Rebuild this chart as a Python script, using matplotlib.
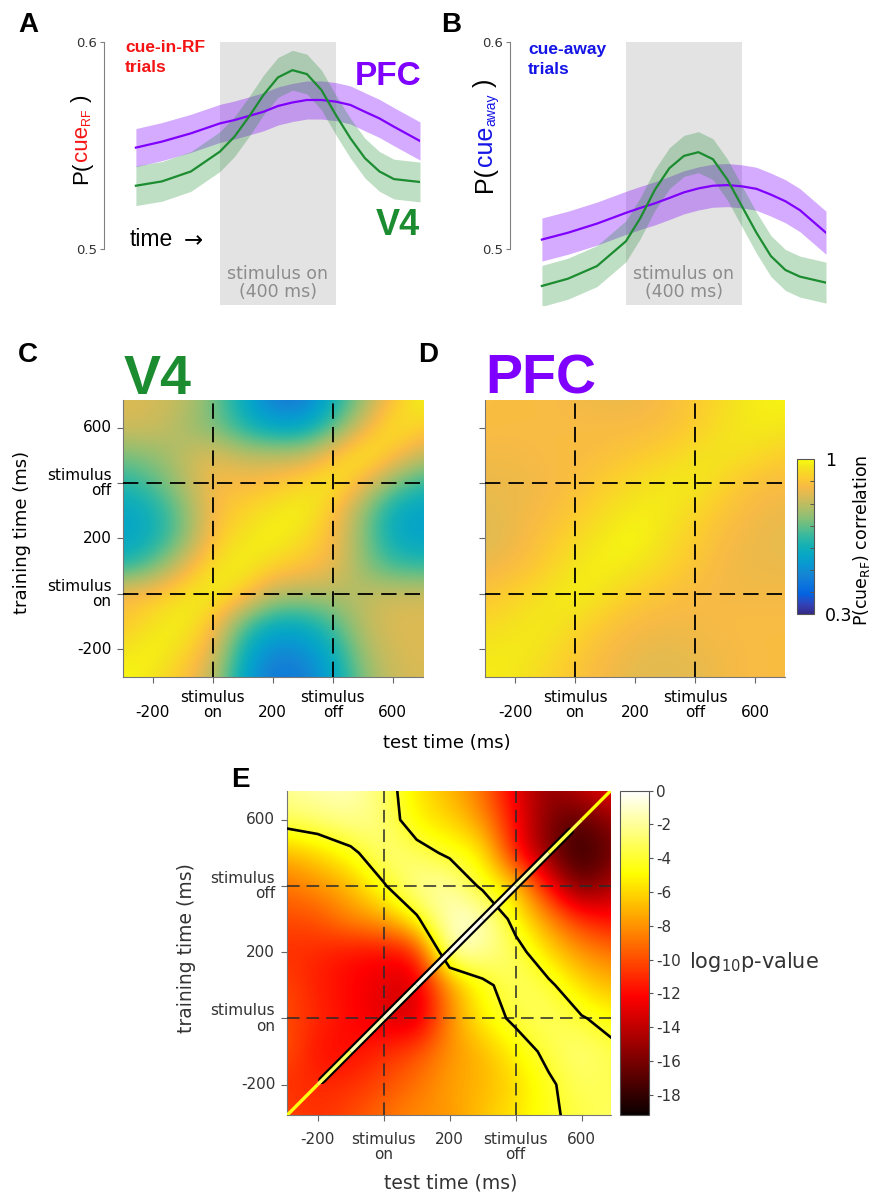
import numpy as np
import matplotlib
matplotlib.use("Agg")
import matplotlib.pyplot as plt
from matplotlib.collections import LineCollection
from matplotlib.colors import LinearSegmentedColormap, Normalize

plt.rcParams["font.family"] = ["DejaVu Sans"]

W, H = 874, 1193
STIM_ON, STIM_OFF = 0, 400

# ---- A / B: decoded probability time courses (ms, probability) ----
curve_t = [-290, -200, -100, 0, 50, 100, 150, 200, 250, 300, 350, 400, 450, 500, 550, 600, 690]
a_v4 = [0.5306, 0.5327, 0.5375, 0.5471, 0.5543, 0.5639, 0.5744, 0.5829, 0.5864,
        0.5845, 0.5768, 0.5647, 0.5535, 0.5439, 0.5375, 0.5338, 0.5324]
a_pfc = [0.5490, 0.5519, 0.5559, 0.5607, 0.5623, 0.5643, 0.5663, 0.5691, 0.5708,
         0.5720, 0.5720, 0.5712, 0.5696, 0.5663, 0.5631, 0.5591, 0.5522]
b_v4 = [0.4822, 0.4857, 0.4918, 0.5038, 0.5151, 0.5287, 0.5391, 0.5450, 0.5468,
        0.5434, 0.5335, 0.5207, 0.5079, 0.4966, 0.4899, 0.4867, 0.4838]
b_pfc = [0.5046, 0.5079, 0.5123, 0.5175, 0.5199, 0.5221, 0.5247, 0.5274, 0.5293,
         0.5306, 0.5309, 0.5303, 0.5291, 0.5263, 0.5231, 0.5188, 0.5079]
a_v4_sem, a_pfc_sem = 0.0096, 0.0092
b_v4_sem, b_pfc_sem = 0.0099, 0.0104

# ---- C / D / E: cross-temporal maps, rows = training time 700 -> -300, cols = test time -300 -> 700 ----
grid_t = [-300, -200, -100, 0, 100, 200, 300, 400, 500, 600, 700]

v4_corr = [
    [0.84, 0.83, 0.80, 0.72, 0.58, 0.45, 0.44, 0.60, 0.75, 0.90, 1.00],
    [0.82, 0.82, 0.77, 0.72, 0.63, 0.56, 0.57, 0.68, 0.85, 0.98, 0.92],
    [0.72, 0.74, 0.80, 0.85, 0.80, 0.80, 0.80, 0.90, 1.00, 0.90, 0.80],
    [0.63, 0.68, 0.78, 0.88, 0.88, 0.90, 0.94, 0.99, 0.86, 0.72, 0.64],
    [0.56, 0.60, 0.72, 0.88, 0.93, 0.97, 1.00, 0.90, 0.74, 0.58, 0.55],
    [0.55, 0.60, 0.72, 0.90, 0.97, 1.00, 0.95, 0.88, 0.73, 0.58, 0.55],
    [0.63, 0.70, 0.84, 0.96, 1.00, 0.93, 0.90, 0.86, 0.74, 0.66, 0.65],
    [0.88, 0.90, 0.96, 1.00, 0.92, 0.79, 0.78, 0.78, 0.80, 0.82, 0.82],
    [0.90, 0.96, 1.00, 0.90, 0.70, 0.60, 0.60, 0.68, 0.80, 0.84, 0.84],
    [0.96, 1.00, 0.95, 0.85, 0.60, 0.48, 0.50, 0.60, 0.77, 0.83, 0.84],
    [1.00, 0.97, 0.90, 0.80, 0.56, 0.43, 0.45, 0.56, 0.73, 0.82, 0.83],
]

pfc_corr = [
    [0.89, 0.88, 0.88, 0.87, 0.86, 0.86, 0.88, 0.91, 0.95, 0.98, 0.99],
    [0.88, 0.88, 0.88, 0.88, 0.88, 0.88, 0.89, 0.92, 0.96, 0.98, 0.97],
    [0.87, 0.87, 0.88, 0.88, 0.89, 0.91, 0.93, 0.96, 0.97, 0.95, 0.92],
    [0.86, 0.86, 0.87, 0.89, 0.92, 0.95, 0.97, 0.98, 0.93, 0.89, 0.88],
    [0.85, 0.86, 0.88, 0.91, 0.95, 0.98, 0.98, 0.94, 0.90, 0.87, 0.86],
    [0.84, 0.86, 0.90, 0.94, 0.98, 1.00, 0.96, 0.92, 0.88, 0.86, 0.85],
    [0.86, 0.88, 0.92, 0.97, 0.99, 0.97, 0.94, 0.90, 0.87, 0.86, 0.86],
    [0.90, 0.93, 0.96, 0.99, 0.96, 0.92, 0.90, 0.88, 0.87, 0.87, 0.87],
    [0.94, 0.96, 0.98, 0.95, 0.91, 0.88, 0.87, 0.87, 0.88, 0.88, 0.88],
    [0.97, 0.98, 0.96, 0.92, 0.88, 0.86, 0.85, 0.86, 0.87, 0.88, 0.88],
    [0.98, 0.97, 0.94, 0.90, 0.87, 0.85, 0.84, 0.85, 0.87, 0.88, 0.88],
]

# log10 p-value of V4 vs PFC difference (off-diagonal background)
e_logp = [
    [-2.0, -1.5, -1.2, -3.0, -5.5, -7.0, -9.0, -13.0, -15.5, -13.5, -12.0],
    [-3.0, -2.5, -2.0, -2.5, -5.5, -6.0, -8.0, -12.0, -16.0, -17.0, -15.0],
    [-7.0, -6.0, -4.5, -2.5, -3.0, -4.5, -5.0, -12.0, -16.0, -18.5, -16.0],
    [-9.0, -8.0, -7.0, -4.2, -2.0, -1.5, -4.5, -6.0, -12.0, -17.0, -14.0],
    [-10.0, -10.0, -8.0, -7.5, -4.3, -1.0, -0.8, -5.0, -8.0, -11.0, -12.0],
    [-11.0, -11.0, -12.0, -12.0, -12.0, -0.5, -2.0, -3.0, -6.0, -8.0, -9.0],
    [-10.0, -11.5, -12.0, -13.0, -13.5, -8.0, -4.5, -3.0, -3.5, -6.0, -7.0],
    [-10.0, -11.0, -12.0, -13.0, -14.0, -8.0, -5.0, -3.6, -3.0, -3.8, -5.0],
    [-9.5, -12.0, -12.0, -11.0, -10.0, -8.0, -7.0, -5.0, -3.5, -2.5, -3.5],
    [-11.0, -11.0, -11.0, -10.0, -9.0, -7.5, -7.0, -6.0, -4.3, -3.0, -3.5],
    [-10.0, -11.0, -10.0, -9.0, -8.0, -8.0, -6.5, -5.5, -4.3, -3.5, -3.0],
]
# thin ridge along the diagonal (training time == test time)
e_diag = [-5.0, -4.3, -2.0, -1.0, -0.6, -0.2, -0.3, -1.2, -2.5, -4.8, -5.0]
E_LEVEL = -4.0

map_ticks = [-200, 0, 200, 400, 600]

V4_COL = "#1c8c30"
PFC_COL = "#7f00ff"
RED = "#f51414"
BLUE = "#1414e6"

# parula-like colormap
PARULA = [(0.2081, 0.1663, 0.5292), (0.1959, 0.2645, 0.7279), (0.0117, 0.3875, 0.8820),
          (0.0498, 0.4586, 0.8641), (0.0793, 0.5200, 0.8312), (0.0343, 0.5966, 0.8199),
          (0.0228, 0.6535, 0.7768), (0.0843, 0.6928, 0.7062), (0.2178, 0.7250, 0.6193),
          (0.3953, 0.7459, 0.5244), (0.5709, 0.7485, 0.4494), (0.7184, 0.7411, 0.3905),
          (0.8507, 0.7299, 0.3360), (0.9739, 0.7314, 0.2666), (0.9880, 0.8066, 0.1794),
          (0.9589, 0.8949, 0.1132), (0.9763, 0.9831, 0.0538)]
PARULA_POS = [i / 63 for i in (0, 4, 8, 12, 16, 20, 24, 28, 32, 36, 40, 44, 48, 52, 56, 60, 63)]
parula = LinearSegmentedColormap.from_list("parula", list(zip(PARULA_POS, PARULA)))


def rect(x0, y0, x1, y1):
    return [x0 / W, 1 - y1 / H, (x1 - x0) / W, (y1 - y0) / H]


def ftext(x, y, s, **kw):
    return fig.text(x / W, 1 - y / H, s, **kw)


def draw_timecourse(ax, v4, v4_sem, pfc, pfc_sem):
    t = np.array(curve_t)
    ax.axvspan(STIM_ON, STIM_OFF, color="#e3e3e3", lw=0, zorder=0)
    for mean, sem, col, alpha in ((pfc, pfc_sem, PFC_COL, 0.33), (v4, v4_sem, V4_COL, 0.28)):
        mean = np.array(mean)
        ax.fill_between(t, mean - sem, mean + sem, color=col, alpha=alpha, lw=0, zorder=1)
    for mean, col in ((pfc, PFC_COL), (v4, V4_COL)):
        ax.plot(t, mean, color=col, lw=1.6, zorder=2)
    ax.set_xlim(-400, 690)
    ax.set_ylim(0.473, 0.6)
    for side in ("top", "right", "bottom"):
        ax.spines[side].set_visible(False)
    ax.spines["left"].set_bounds(0.5, 0.6)
    ax.spines["left"].set_color("#808080")
    ax.set_xticks([])
    ax.set_yticks([0.5, 0.6], ["0.5", "0.6"])
    ax.tick_params(axis="y", length=3, color="#808080", labelsize=9.5,
                   labelcolor="#333333", pad=2)
    ax.patch.set_alpha(0)
    ax.text(200, 0.4835, "stimulus on\n(400 ms)", ha="center", va="center",
            color="#8c8c8c", fontsize=12.5, linespacing=1.0)


def stacked_ylabel(ax, x, y, pieces):
    # rotated label built from pieces: (text, colour, size, shift in points)
    first = pieces[0]
    prev = ftext(x, y, first[0], color=first[1], fontsize=first[2], rotation=90,
                 ha="left", va="bottom", family="Liberation Sans")
    for s, col, fs, dx in pieces[1:]:
        prev = ax.annotate(s, xy=(0, 1), xycoords=prev, xytext=(dx, 0),
                           textcoords="offset points", rotation=90, ha="left",
                           va="bottom", color=col, fontsize=fs,
                           family="Liberation Sans", annotation_clip=False)


def draw_map(ax, grid, cmap, vmin, vmax, lim, dash):
    im = ax.imshow(grid, cmap=cmap, vmin=vmin, vmax=vmax, origin="upper",
                   extent=(-350, 750, -350, 750), interpolation="bicubic",
                   aspect="auto", zorder=0)
    ax.set_xlim(*lim)
    ax.set_ylim(*lim)
    for v in (STIM_ON, STIM_OFF):
        ax.axvline(v, **dash)
        ax.axhline(v, **dash)
    for side in ("top", "right"):
        ax.spines[side].set_visible(False)
    for side in ("left", "bottom"):
        ax.spines[side].set_color("#777777")
        ax.spines[side].set_linewidth(0.8)
    ax.set_xticks(map_ticks)
    ax.set_yticks(map_ticks)
    ax.tick_params(direction="out", length=4, width=0.8, color="#666666")
    return im


def style_ticklabels(ax, xlabels, ylabels, size, color, spacing, xpad, ypad):
    ax.set_xticklabels(xlabels, fontsize=size, color=color, linespacing=spacing)
    ax.set_yticklabels(ylabels, fontsize=size, color=color, linespacing=spacing,
                       va="center")
    ax.tick_params(axis="x", pad=xpad)
    ax.tick_params(axis="y", pad=ypad)


fig = plt.figure(figsize=(W / 100, H / 100), dpi=100)

# ---------------- A ----------------
axA = fig.add_axes(rect(104, 42, 420, 305))
draw_timecourse(axA, a_v4, a_v4_sem, a_pfc, a_pfc_sem)
ftext(125, 40, "cue-in-RF\ntrials", color=RED, fontsize=12.5, fontweight="bold",
      family="Liberation Sans", va="top", ha="left", linespacing=1.45)
ftext(421, 85, "PFC", color=PFC_COL, fontsize=24, fontweight="bold",
      family="Liberation Sans", ha="right", va="baseline")
ftext(420, 235, "V4", color=V4_COL, fontsize=26, fontweight="bold",
      family="Liberation Sans", ha="right", va="baseline")
ftext(130, 246.5, "time", color="black", fontsize=16.5,
      family="Liberation Sans", ha="left", va="baseline")
ftext(184, 247.5, "\u2192", color="black", fontsize=16.5,
      family="DejaVu Sans", ha="left", va="baseline")
stacked_ylabel(axA, 71, 183.5, [("P(", "black", 16, 0), ("cue", RED, 16, 0),
                                 ("RF", RED, 9, 7.4), (" )", "black", 16, -7.4)])

# ---------------- B ----------------
axB = fig.add_axes(rect(510, 42, 826, 305))
draw_timecourse(axB, b_v4, b_v4_sem, b_pfc, b_pfc_sem)
ftext(528, 42, "cue-away\ntrials", color=BLUE, fontsize=12.5, fontweight="bold",
      family="Liberation Sans", va="top", ha="left", linespacing=1.45)
stacked_ylabel(axB, 473, 191.5, [("P(", "black", 18, 0), ("cue", BLUE, 18, 0),
                                  ("away", BLUE, 10, 8.1), (" )", "black", 18, -8.1)])

# ---------------- C / D ----------------
dash_cd = dict(color="black", lw=1.3, dashes=(8.5, 4.5), zorder=3)
x_lab_cd = ["\n-200", "stimulus\non", "\n200", "stimulus\noff", "\n600"]
y_lab = ["-200", "stimulus\non", "200", "stimulus\noff", "600"]

axC = fig.add_axes(rect(122.7, 400, 422.7, 676.7))
draw_map(axC, v4_corr, parula, 0.3, 1.0, (-300, 700), dash_cd)
style_ticklabels(axC, x_lab_cd, y_lab, 11, "black", 1.0, 5.3, 4.0)

axD = fig.add_axes(rect(485, 400, 785, 676.7))
imD = draw_map(axD, pfc_corr, parula, 0.3, 1.0, (-300, 700), dash_cd)
style_ticklabels(axD, x_lab_cd, [""] * 5, 11, "black", 1.0, 5.3, 4.0)

ftext(124, 394, "V4", color=V4_COL, fontsize=40, fontweight="bold",
      family="Liberation Sans", ha="left", va="baseline")
ftext(485, 393, "PFC", color=PFC_COL, fontsize=40, fontweight="bold",
      family="Liberation Sans", ha="left", va="baseline")
ftext(22, 532, "training time (ms)", rotation=90, fontsize=13, ha="center", va="center")
ftext(447, 743, "test time (ms)", fontsize=13, ha="center", va="center")

caxD = fig.add_axes(rect(797.3, 459.3, 814, 614))
cbD = fig.colorbar(imD, cax=caxD)
cbD.set_ticks([0.3, 1.0], labels=["0.3", "1"])
cbD.ax.set_yticks(np.arange(0.4, 0.95, 0.1), minor=True)
cbD.ax.tick_params(which="both", direction="in", color="#555555", width=0.7)
cbD.ax.tick_params(which="major", length=0, labelsize=12.5, pad=8)
cbD.ax.tick_params(which="minor", length=3)
cbD.outline.set_linewidth(0.8)
cbD.outline.set_edgecolor("#555555")
ftext(862, 540, "P(cue$_{\\rm RF}$) correlation", rotation=90, fontsize=12.5,
      ha="center", va="center")

# ---------------- E ----------------
E_LIM = (-292, 688)
e_norm = Normalize(-19.2, 0)
axE = fig.add_axes(rect(287.3, 790.7, 610.7, 1115))
dash_e = dict(color="#2a2a2a", lw=1.3, dashes=(7, 3.8), alpha=0.85, zorder=3)
imE = draw_map(axE, e_logp, "hot", -19.2, 0, E_LIM, dash_e)
tt = np.array(grid_t, dtype=float)
axE.contour(tt, tt, np.flipud(np.array(e_logp)), levels=[E_LEVEL], colors="black",
            linewidths=1.9, linestyles="solid", zorder=4)

# diagonal ridge: outline where it passes the threshold, then the ridge itself
dv = np.array(e_diag)
inside = np.where(dv >= E_LEVEL)[0]
i0, i1 = inside[0], inside[-1]
r_start = np.interp(E_LEVEL, [dv[i0 - 1], dv[i0]], [tt[i0 - 1], tt[i0]])
r_end = np.interp(E_LEVEL, [dv[i1 + 1], dv[i1]], [tt[i1 + 1], tt[i1]])
axE.plot([r_start, r_end], [r_start, r_end], color="black", lw=5.5,
         solid_capstyle="round", zorder=5)
segs = [[(tt[i], tt[i]), (tt[i + 1], tt[i + 1])] for i in range(len(tt) - 1)]
seg_cols = [plt.get_cmap("hot")(e_norm((dv[i] + dv[i + 1]) / 2)) for i in range(len(tt) - 1)]
axE.add_collection(LineCollection(segs, colors=seg_cols, linewidths=2.4, zorder=6))

x_lab_e = ["-200", "stimulus\non", "200", "stimulus\noff", "600"]
style_ticklabels(axE, x_lab_e, y_lab, 11, "#333333", 1.05, 8.0, 4.7)
ftext(186, 948, "training time (ms)", rotation=90, fontsize=13.5, ha="center",
      va="center", color="#333333")
ftext(451, 1183, "test time (ms)", fontsize=13.5, ha="center", va="center",
      color="#333333")

caxE = fig.add_axes(rect(620, 790.7, 649, 1115))
cbE = fig.colorbar(imE, cax=caxE)
e_cb_ticks = list(range(0, -19, -2))
cbE.set_ticks(e_cb_ticks, labels=[str(v) for v in e_cb_ticks])
cbE.ax.tick_params(length=3, color="#555555", labelsize=11, labelcolor="#333333", pad=2)
cbE.outline.set_linewidth(0.8)
cbE.outline.set_edgecolor("#555555")
ftext(689, 962, "log$_{10}$p-value", fontsize=15, ha="left", va="center", color="#333333")

# panel letters
for letter, x, y in (("A", 18, 32), ("B", 441, 32), ("C", 18, 362), ("D", 418, 362), ("E", 231, 787)):
    ftext(x, y, letter, fontsize=20, fontweight="bold", family="Liberation Sans",
          ha="left", va="baseline")

fig.savefig("out.png", dpi=100)
